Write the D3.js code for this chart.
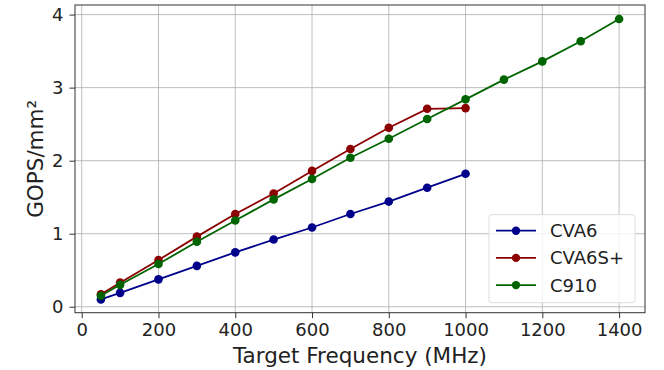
<!DOCTYPE html>
<html><head><meta charset="utf-8">
<script src="https://cdn.jsdelivr.net/npm/d3@7"></script>
<style>body{margin:0;background:#fff}svg{display:block;font-family:"DejaVu Sans",sans-serif}</style>
</head><body><svg id="c" width="664" height="370"></svg>
<script>
const freqCVA6 = [50,100,200,300,400,500,600,700,800,900,1000];
const gopsCVA6 = [0.10,0.19,0.375,0.56,0.745,0.92,1.085,1.27,1.44,1.63,1.82];
const freqCVA6S = [50,100,200,300,400,500,600,700,800,900,1000];
const gopsCVA6S = [0.17,0.33,0.64,0.96,1.27,1.55,1.86,2.16,2.45,2.71,2.72];
const freqC910 = [50,100,200,300,400,500,600,700,800,900,1000,1100,1200,1300,1400];
const gopsC910 = [0.15,0.30,0.585,0.89,1.18,1.47,1.75,2.04,2.30,2.57,2.84,3.11,3.36,3.635,3.94];
const seriesNames = ["CVA6","CVA6S+","C910"];
const seriesColors = ["#00008b","#8b0000","#006400"];
const xTicks = [0,200,400,600,800,1000,1200,1400];
const yTicks = [0,1,2,3,4];

const series = [
  {name:seriesNames[0], color:seriesColors[0], x:freqCVA6, y:gopsCVA6},
  {name:seriesNames[1], color:seriesColors[1], x:freqCVA6S, y:gopsCVA6S},
  {name:seriesNames[2], color:seriesColors[2], x:freqC910, y:gopsC910}
];

const svg = d3.select("#c");
const L=75, R=645, T=5, B=312.7;
const x = d3.scaleLinear().domain([-17.5,1467.5]).range([L,R]);
const y = d3.scaleLinear().domain([-0.0815,4.1315]).range([B,T]);

// grid
svg.append("g").selectAll("line").data(xTicks).join("line")
  .attr("x1",d=>x(d)).attr("x2",d=>x(d)).attr("y1",T).attr("y2",B)
  .attr("stroke","#b0b0b0").attr("stroke-width",1).attr("opacity",0.8);
svg.append("g").selectAll("line").data(yTicks).join("line")
  .attr("y1",d=>y(d)).attr("y2",d=>y(d)).attr("x1",L).attr("x2",R)
  .attr("stroke","#b0b0b0").attr("stroke-width",1).attr("opacity",0.8);

// axes
const xAxis = d3.axisBottom(x).tickValues(xTicks).tickSize(5.5).tickPadding(5).tickFormat(d3.format("d"));
const yAxis = d3.axisLeft(y).tickValues(yTicks).tickSize(5.5).tickPadding(6).tickFormat(d3.format("d"));
const gx = svg.append("g").attr("transform",`translate(0,${B})`).call(xAxis);
const gy = svg.append("g").attr("transform",`translate(${L},0)`).call(yAxis);
[gx,gy].forEach(g=>{
  g.select(".domain").remove();
  g.selectAll(".tick line").attr("stroke","#333");
  g.selectAll(".tick text").attr("fill","#222").style("font-size","18px").style("font-family","DejaVu Sans");
});

// lines
const line = d3.line().x(d=>x(d[0])).y(d=>y(d[1]));
series.forEach(s=>{
  const pts = s.x.map((v,i)=>[v,s.y[i]]);
  svg.append("path").datum(pts).attr("d",line).attr("fill","none")
    .attr("stroke",s.color).attr("stroke-width",1.8);
  svg.append("g").selectAll("circle").data(pts).join("circle")
    .attr("cx",d=>x(d[0])).attr("cy",d=>y(d[1])).attr("r",4.3).attr("fill",s.color);
});

// frame
svg.append("rect").attr("x",L).attr("y",T).attr("width",R-L).attr("height",B-T)
  .attr("fill","none").attr("stroke","#333").attr("stroke-width",1);

// labels
svg.append("text").attr("x",(L+R)/2).attr("y",362.5).attr("text-anchor","middle")
  .style("font-size","21.5px").attr("fill","#222").text("Target Frequency (MHz)");
svg.append("text").attr("transform",`translate(42.5,${(T+B)/2}) rotate(-90)`).attr("text-anchor","middle")
  .style("font-size","21.5px").attr("fill","#222").text("GOPS/mm²");

// legend
const lg = svg.append("g");
lg.append("rect").attr("x",489).attr("y",214.7).attr("width",146).attr("height",88).attr("rx",3)
  .attr("fill","#fff").attr("fill-opacity",0.8).attr("stroke","#ddd");
series.forEach((s,i)=>{
  const yy = 230.7 + i*27.2;
  lg.append("line").attr("x1",496).attr("x2",536).attr("y1",yy).attr("y2",yy).attr("stroke",s.color).attr("stroke-width",1.8);
  lg.append("circle").attr("cx",516).attr("cy",yy).attr("r",4.2).attr("fill",s.color);
  lg.append("text").attr("x",550).attr("y",yy).attr("dy","0.36em").style("font-size","18px").attr("fill","#222").text(s.name);
});
</script></body></html>
